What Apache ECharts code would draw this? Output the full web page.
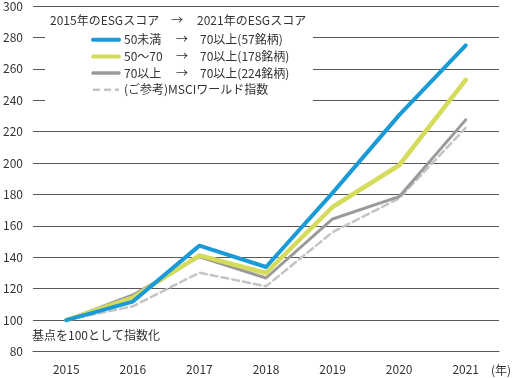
<!DOCTYPE html>
<html><head><meta charset="utf-8">
<script src="https://cdn.jsdelivr.net/npm/echarts@6/dist/echarts.min.js"></script>
<style>html,body{margin:0;padding:0;background:#fff}#c{width:512px;height:378px}</style>
</head><body><div id="c"></div>
<script>
const categories = ['2015','2016','2017','2018','2019','2020','2021'];
const seriesNames = ['50未満','50～70','70以上','(ご参考)MSCIワールド指数'];
const rightLabels = ['70以上(57銘柄)','70以上(178銘柄)','70以上(224銘柄)',''];
const under50 = [100, 111.8, 147.4, 133.8, 181, 230.5, 275];
const from50to70 = [100, 114.3, 141.2, 130, 172, 198.6, 253];
const over70 = [100, 116, 140.3, 126.8, 164.4, 178.6, 227.5];
const msci = [100, 108.8, 130.2, 121.5, 156, 177.5, 222.4];
const yTicks = {min: 80, max: 300, interval: 20};

const FONT = "'Noto Sans CJK JP', 'Noto Sans', sans-serif";
const TXT = '#333';
const chart = echarts.init(document.getElementById('c'), null, {renderer: 'canvas'});
const colors = ['#1a9bd7', '#d5dc5b', '#9a9a9a', '#c4c4c4'];
const widths = [4, 4.5, 3, 2.5];
const legendWidths = [4, 4, 3.5, 2.5];
const datas = [under50, from50to70, over70, msci];
const order = [3, 2, 1, 0];
const series = order.map(i => ({
  name: seriesNames[i], type: 'line', data: datas[i], symbol: 'none', z: 5 + (3 - i),
  lineStyle: {color: colors[i], width: widths[i], type: i === 3 ? [7, 4] : 'solid', cap: 'round', join: 'round'},
  itemStyle: {color: colors[i]}
}));
chart.setOption({
  animation: false,
  textStyle: {fontFamily: FONT},
  grid: {left: 32, right: 13, top: 4.5, bottom: 26.5},
  xAxis: {
    type: 'category', data: categories, boundaryGap: true,
    axisLine: {lineStyle: {color: '#595959', width: 1}},
    axisTick: {inside: true, length: 4, lineStyle: {color: '#595959'}},
    axisLabel: {color: TXT, fontSize: 12, fontFamily: FONT, margin: 12}
  },
  yAxis: {
    type: 'value', min: yTicks.min, max: yTicks.max, interval: yTicks.interval,
    axisLine: {show: false}, axisTick: {show: false},
    axisLabel: {color: TXT, fontSize: 12, fontFamily: FONT, margin: 10},
    splitLine: {lineStyle: {color: '#595959', width: 1}}
  },
  legend: {
    orient: 'vertical', left: 91, top: 33.7, padding: 0, itemWidth: 26, itemHeight: 14, itemGap: 4.7,
    data: seriesNames.map((n, i) => ({name: n, lineStyle: {width: legendWidths[i], cap: i === 3 ? 'butt' : 'round'}})),
    selectedMode: false,
    itemStyle: {opacity: 0},
    textStyle: {fontFamily: FONT, fontSize: 12, color: TXT,
      rich: {a: {width: 52, fontFamily: FONT, fontSize: 12, color: TXT},
             b: {width: 24, fontFamily: FONT, fontSize: 12, color: TXT},
             c: {fontFamily: FONT, fontSize: 12, color: TXT}}},
    formatter: name => {
      const i = seriesNames.indexOf(name);
      return rightLabels[i] ? `{a|${name}}{b|→}{c|${rightLabels[i]}}` : `{c|${name}}`;
    },
    z: 6
  },
  graphic: [
    {type: 'rect', shape: {x: 45, y: 9, width: 268, height: 94}, style: {fill: '#fff'}, z: 2},
    {type: 'text', x: 50, y: 20, z: 3, style: {text: '2015年のESGスコア', fill: TXT, font: '12px ' + FONT, verticalAlign: 'middle'}},
    {type: 'text', x: 171, y: 20, z: 3, style: {text: '→', fill: TXT, font: '12px ' + FONT, verticalAlign: 'middle'}},
    {type: 'text', x: 197, y: 20, z: 3, style: {text: '2021年のESGスコア', fill: TXT, font: '12px ' + FONT, verticalAlign: 'middle'}},
    {type: 'text', x: 32, y: 335, z: 3, style: {text: '基点を100として指数化', fill: TXT, font: '12px ' + FONT, verticalAlign: 'middle'}},
    {type: 'text', x: 511, y: 370, z: 3, style: {text: '(年)', fill: TXT, font: '12px ' + FONT, align: 'right', verticalAlign: 'middle'}}
  ],
  series: series
});
</script></body></html>
